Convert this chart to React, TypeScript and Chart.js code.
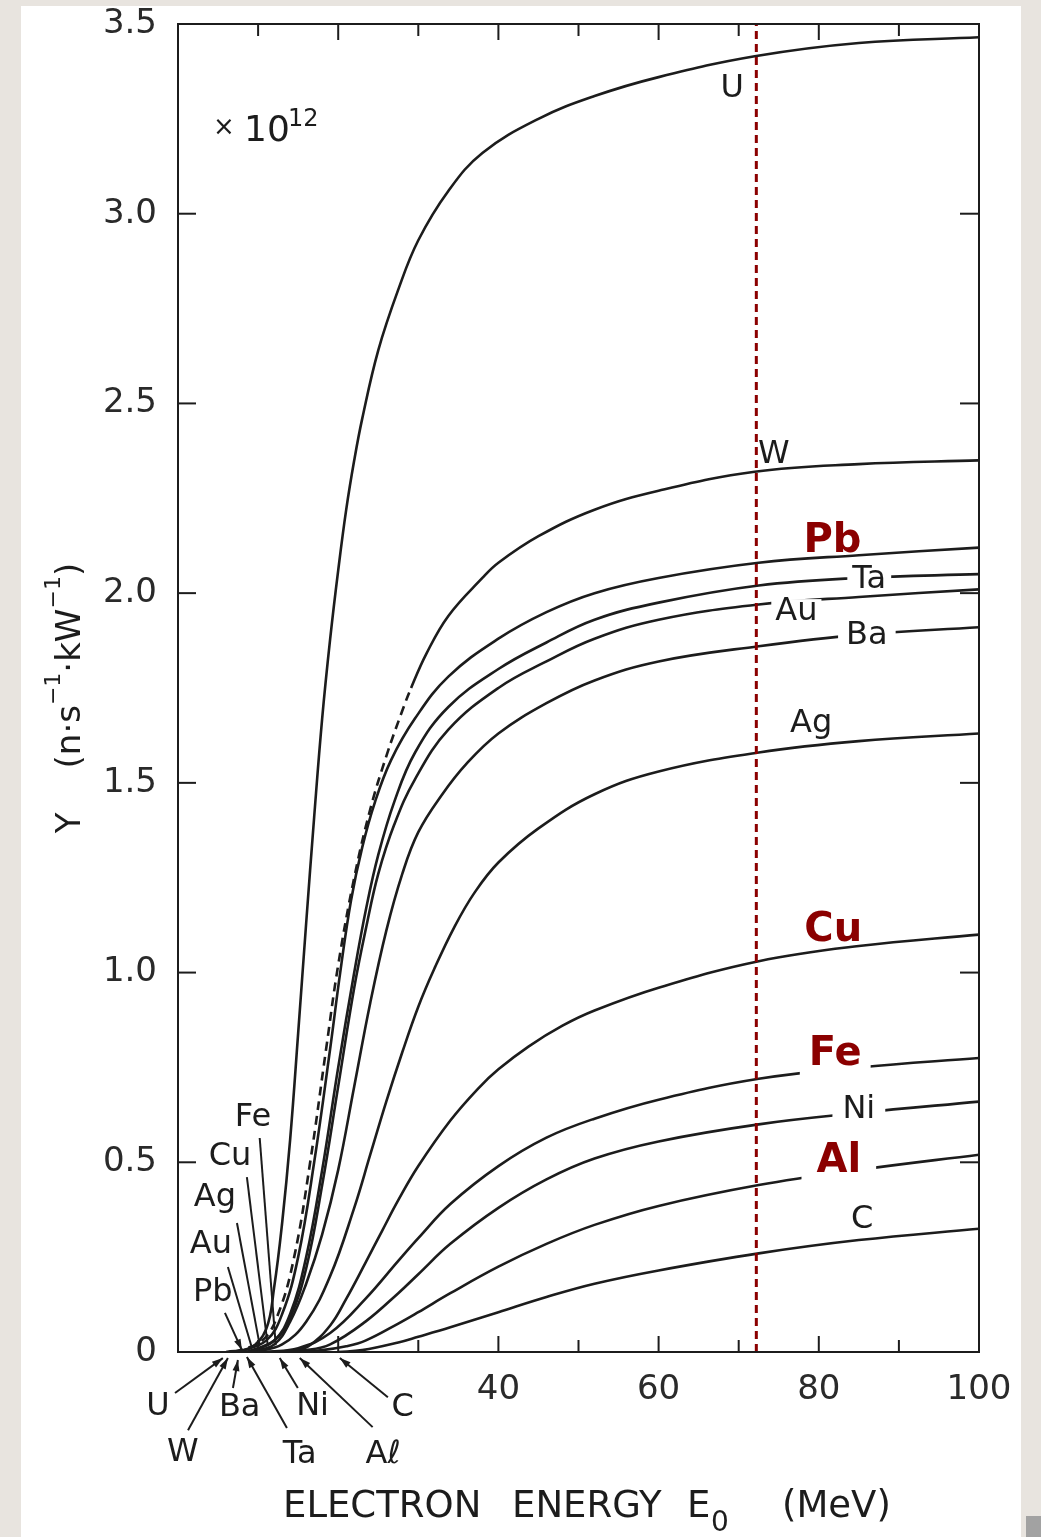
import React, { useEffect, useRef } from "react";
import { Chart, registerables } from "chart.js";

Chart.register(...registerables);

// ---------- DATA: electron energy E0 (MeV) -> neutron yield Y (x 10^12 n·s^-1·kW^-1) ----------
const U_YIELD = [[6,0],[9,0.01],[11,0.06],[12,0.17],[13,0.34],[14,0.56],[15,0.84],[16,1.13],[17,1.41],[18,1.67],[19,1.88],[20,2.06],[21,2.22],[22,2.35],[23,2.46],[25,2.64],[27.5,2.8],[30,2.93],[33.75,3.06],[38,3.16],[45,3.25],[52,3.31],[60,3.36],[72,3.415],[85,3.45],[100,3.465]];
const W_YIELD = [[7,0],[10.5,0.03],[12.5,0.1],[14.5,0.25],[16.5,0.5],[18.5,0.8],[20,1.02],[22,1.25],[24,1.43],[26,1.57],[28,1.69],[29.1,1.75],[31,1.84],[33.75,1.94],[38,2.04],[40,2.08],[45,2.15],[52,2.22],[60,2.27],[72,2.32],[85,2.34],[100,2.35]];
const PB_YIELD = [[7.5,0],[11,0.03],[13,0.1],[15,0.25],[17,0.5],[19,0.8],[20.25,1.0],[21.6,1.19],[23,1.33],[24.6,1.45],[26.6,1.56],[29.6,1.67],[33.75,1.78],[40,1.88],[46,1.95],[52,2.0],[60,2.04],[72.5,2.08],[85,2.1],[100,2.12]];
const TA_YIELD = [[9,0],[12,0.03],[14,0.1],[16,0.25],[18,0.48],[20,0.75],[22,1.0],[23.5,1.17],[25,1.31],[27,1.45],[29.6,1.58],[33.75,1.7],[40,1.8],[46,1.87],[52,1.93],[60,1.975],[72.5,2.02],[85,2.04],[100,2.05]];
const AU_YIELD = [[8.5,0],[12,0.03],[14,0.09],[16,0.22],[18,0.44],[20,0.7],[22,0.96],[23.5,1.12],[25,1.26],[27,1.39],[29.6,1.51],[33.75,1.64],[40,1.75],[46,1.82],[52,1.88],[60,1.93],[72.5,1.97],[85,1.99],[100,2.01]];
const BA_YIELD = [[9,0],[12,0.02],[14,0.08],[16,0.18],[18,0.31],[20,0.48],[22,0.7],[24,0.92],[26,1.11],[28,1.26],[30,1.37],[33,1.47],[36,1.55],[40,1.63],[46,1.71],[52,1.77],[60,1.82],[72.5,1.86],[85,1.89],[100,1.91]];
const AG_YIELD = [[9.5,0],[13,0.02],[16,0.08],[19,0.2],[22,0.38],[24,0.52],[26,0.66],[28,0.79],[30,0.91],[32,1.01],[34.5,1.12],[37,1.21],[40,1.29],[45,1.38],[52,1.47],[60,1.53],[72.5,1.58],[85,1.61],[100,1.63]];
const CU_YIELD = [[10,0],[14,0.003],[16.25,0.015],[19,0.07],[21,0.14],[23.4,0.235],[25.5,0.32],[27.5,0.4],[30,0.49],[34,0.61],[37.5,0.695],[40,0.745],[43.75,0.805],[48,0.86],[52,0.9],[60,0.96],[72.5,1.03],[85,1.07],[100,1.1]];
const FE_YIELD = [[11,0],[15,0.01],[19,0.05],[23.4,0.14],[27.5,0.24],[30,0.3],[34,0.39],[40,0.49],[46,0.565],[52,0.615],[60,0.665],[72.5,0.72],[85,0.75],[100,0.775]];
const NI_YIELD = [[12,0],[16,0.005],[19,0.02],[23.4,0.08],[27.5,0.155],[30,0.205],[34,0.285],[40,0.38],[46,0.455],[52,0.51],[60,0.555],[72.5,0.6],[85,0.63],[100,0.66]];
const AL_YIELD = [[14,0],[18,0.005],[21,0.015],[23.4,0.03],[27.5,0.075],[30,0.105],[34,0.155],[40,0.225],[46,0.285],[52,0.335],[60,0.385],[72.5,0.44],[85,0.48],[100,0.52]];
const C_YIELD = [[20,0],[23,0.005],[27.5,0.025],[30,0.04],[34,0.065],[40,0.105],[46,0.145],[52,0.18],[60,0.215],[72.5,0.26],[85,0.295],[100,0.325]];

const W_DASHED_BELOW = 29.1; // W curve drawn dashed below this energy
const MARKER_ENERGY = 72.2;  // red dotted vertical line

const X_TICK_LABELS = [40, 60, 80, 100];
const X_MARKS = [10, 20, 30, 40, 50, 60, 70, 80, 90];
const Y_MARKS = [0.5, 1.0, 1.5, 2.0, 2.5, 3.0];

// curve labels at the right (text, energy, yield)
const RIGHT_LABELS = [
  { text: "U", x: 69.2, y: 3.33, bg: 0 },
  { text: "W", x: 74.4, y: 2.364, bg: 0 },
  { text: "Ta", x: 86.3, y: 2.035, bg: 5 },
  { text: "Au", x: 77.2, y: 1.95, bg: 4 },
  { text: "Ba", x: 86.0, y: 1.887, bg: 8 },
  { text: "Ag", x: 79.05, y: 1.655, bg: 0 },
  { text: "Ni", x: 85.0, y: 0.638, bg: 10 },
  { text: "C", x: 85.4, y: 0.348, bg: 0 },
];
const RED_LABELS = [
  { text: "Pb", x: 81.7, y: 2.135, bg: 0 },
  { text: "Cu", x: 81.8, y: 1.11, bg: 0 },
  { text: "Fe", x: 82.05, y: 0.785, bg: 9 },
  { text: "Al", x: 82.5, y: 0.503, bg: 15 },
];
// threshold labels with leader lines: text position, leader start, leader end, arrow
const THRESHOLD_LABELS = [
  { text: "Fe", x: 9.35, y: 0.617, from: [10.2, 0.564], to: [12.2, 0.018], arrow: false },
  { text: "Cu", x: 6.5, y: 0.514, from: [8.6, 0.461], to: [11.2, 0.018], arrow: false },
  { text: "Ag", x: 4.6, y: 0.406, from: [7.36, 0.34], to: [10.2, 0.018], arrow: false },
  { text: "Au", x: 4.1, y: 0.282, from: [6.23, 0.224], to: [9.2, 0.013], arrow: false },
  { text: "Pb", x: 4.35, y: 0.156, from: [5.86, 0.103], to: [7.98, 0.005], arrow: true },
  { text: "U", x: -2.5, y: -0.145, from: [-0.37, -0.108], to: [5.6, -0.016], arrow: true },
  { text: "W", x: 0.6, y: -0.266, from: [1.25, -0.206], to: [6.23, -0.016], arrow: true },
  { text: "Ba", x: 7.7, y: -0.148, from: [6.86, -0.095], to: [7.48, -0.021], arrow: true },
  { text: "Ta", x: 15.2, y: -0.271, from: [13.6, -0.2], to: [8.6, -0.013], arrow: true },
  { text: "Ni", x: 16.8, y: -0.145, from: [14.96, -0.095], to: [12.7, -0.016], arrow: true },
  { text: "Aℓ", x: 25.6, y: -0.271, from: [24.3, -0.198], to: [15.2, -0.016], arrow: true },
  { text: "C", x: 28.05, y: -0.148, from: [26.2, -0.119], to: [20.2, -0.016], arrow: true },
];

const CURVES = [
  { name: "U", pts: U_YIELD },
  { name: "W", pts: W_YIELD },
  { name: "Pb", pts: PB_YIELD },
  { name: "Ta", pts: TA_YIELD },
  { name: "Au", pts: AU_YIELD },
  { name: "Ba", pts: BA_YIELD },
  { name: "Ag", pts: AG_YIELD },
  { name: "Cu", pts: CU_YIELD },
  { name: "Fe", pts: FE_YIELD },
  { name: "Ni", pts: NI_YIELD },
  { name: "Al", pts: AL_YIELD },
  { name: "C", pts: C_YIELD },
];

const INK = "#1c1c1c";
const RED = "#8b0000";
const FONT = '"DejaVu Sans", sans-serif';

function drawRuns(ctx: CanvasRenderingContext2D, x: number, y: number, runs: any[]) {
  let cx = x;
  for (const r of runs) {
    ctx.font = `${r.size}px ${FONT}`;
    ctx.fillText(r.t, cx, y + (r.dy || 0));
    cx += ctx.measureText(r.t).width + (r.gap || 0);
  }
  return cx - x;
}
function runsWidth(ctx: CanvasRenderingContext2D, runs: any[]) {
  let w = 0;
  for (const r of runs) {
    ctx.font = `${r.size}px ${FONT}`;
    w += ctx.measureText(r.t).width + (r.gap || 0);
  }
  return w;
}

const annotatePlugin = {
  id: "annotate",
  afterDraw(chart: any) {
    const { ctx, chartArea: a, scales } = chart;
    const px = (v: number) => scales.x.getPixelForValue(v);
    const py = (v: number) => scales.y.getPixelForValue(v);
    const seg = (x1: number, y1: number, x2: number, y2: number) => {
      ctx.beginPath(); ctx.moveTo(x1, y1); ctx.lineTo(x2, y2); ctx.stroke();
    };
    ctx.save();
    ctx.strokeStyle = INK;
    ctx.fillStyle = INK;
    ctx.lineWidth = 2;
    // frame
    ctx.strokeRect(a.left, a.top, a.right - a.left, a.bottom - a.top);
    // inward tick marks
    for (const v of Y_MARKS) {
      const y = py(v);
      seg(a.left, y, a.left + 18, y);
      seg(a.right - 19, y, a.right, y);
    }
    for (const v of X_MARKS) {
      const x = px(v);
      const len = v % 20 === 0 ? 16 : 12;
      seg(x, a.bottom, x, a.bottom - len);
      seg(x, a.top, x, a.top + len);
    }
    // leader lines
    ctx.lineWidth = 2;
    for (const l of THRESHOLD_LABELS) {
      const x1 = px(l.from[0]), y1 = py(l.from[1]);
      const x2 = px(l.to[0]), y2 = py(l.to[1]);
      seg(x1, y1, x2, y2);
      if (l.arrow) {
        const ang = Math.atan2(y2 - y1, x2 - x1);
        const L = 11, H = 3.5;
        ctx.beginPath();
        ctx.moveTo(x2, y2);
        ctx.lineTo(x2 - L * Math.cos(ang) + H * Math.sin(ang), y2 - L * Math.sin(ang) - H * Math.cos(ang));
        ctx.lineTo(x2 - L * Math.cos(ang) - H * Math.sin(ang), y2 - L * Math.sin(ang) + H * Math.cos(ang));
        ctx.closePath();
        ctx.fill();
      }
    }
    // black labels
    ctx.textAlign = "center";
    ctx.textBaseline = "middle";
    ctx.font = `32px ${FONT}`;
    for (const l of [...RIGHT_LABELS, ...THRESHOLD_LABELS.map((t) => ({ ...t, bg: 0 }))]) {
      const x = px(l.x), y = py(l.y);
      if (l.bg) {
        const w = ctx.measureText(l.text).width + 2 * l.bg;
        ctx.fillStyle = "#ffffff";
        ctx.fillRect(x - w / 2, y - 13, w, 26);
      }
      ctx.fillStyle = INK;
      ctx.fillText(l.text, x, y);
    }
    // red labels
    ctx.font = `bold 40px ${FONT}`;
    for (const l of RED_LABELS) {
      const x = px(l.x), y = py(l.y);
      if (l.bg) {
        const w = ctx.measureText(l.text).width + 2 * l.bg;
        ctx.fillStyle = "#ffffff";
        ctx.fillRect(x - w / 2, y - 22, w, 44);
      }
      ctx.fillStyle = RED;
      ctx.fillText(l.text, x, y);
    }
    // x10^12
    ctx.fillStyle = INK;
    ctx.textAlign = "left";
    ctx.textBaseline = "alphabetic";
    ctx.font = `26px ${FONT}`;
    ctx.fillText("×", a.left + 35, a.top + 111);
    ctx.font = `36px ${FONT}`;
    ctx.fillText("10", a.left + 66, a.top + 117);
    ctx.font = `24px ${FONT}`;
    ctx.fillText("12", a.left + 110, a.top + 102);
    // x axis title
    const by = a.bottom + 165;
    ctx.font = `37px ${FONT}`;
    ctx.fillText("ELECTRON", a.left + 105, by);
    ctx.fillText("ENERGY", a.left + 334, by);
    ctx.fillText("E", a.left + 509, by);
    ctx.fillText("(MeV)", a.left + 604, by);
    ctx.font = `28px ${FONT}`;
    ctx.fillText("0", a.left + 533, by + 14);
    // y axis title (rotated)
    const runs = [
      { t: "Y", size: 34, gap: 44 },
      { t: "(n·s", size: 34 },
      { t: "−1", size: 22, dy: -20 },
      { t: "·kW", size: 34 },
      { t: "−1", size: 22, dy: -20 },
      { t: ")", size: 34 },
    ];
    ctx.save();
    ctx.translate(a.left - 98, a.top + 674);
    ctx.rotate(-Math.PI / 2);
    const tw = runsWidth(ctx, runs);
    drawRuns(ctx, -tw / 2, 0, runs);
    ctx.restore();
    ctx.restore();
  },
};

export default function App() {
  const ref = useRef<HTMLCanvasElement | null>(null);
  useEffect(() => {
    const canvas = ref.current;
    if (!canvas) return;
    Chart.defaults.font.family = FONT;
    const datasets: any[] = [
      {
        label: "marker",
        data: [{ x: MARKER_ENERGY, y: 0 }, { x: MARKER_ENERGY, y: 3.5 }],
        borderColor: RED,
        borderWidth: 3,
        borderDash: [8, 5],
        pointRadius: 0,
        tension: 0,
      },
      ...CURVES.map((c) => ({
        label: c.name,
        data: c.pts.map(([x, y]) => ({ x, y })),
        borderColor: INK,
        borderWidth: 2.6,
        pointRadius: 0,
        tension: 0.4,
        fill: false,
        segment:
          c.name === "W"
            ? { borderDash: (ctx: any) => (ctx.p1.parsed.x <= W_DASHED_BELOW ? [9, 6] : undefined) }
            : undefined,
      })),
    ];
    const chart = new Chart(canvas, {
      type: "line",
      data: { datasets },
      options: {
        responsive: false,
        animation: false,
        devicePixelRatio: 1,
        layout: { padding: { top: 24, right: 62, left: 0, bottom: 0 } },
        plugins: { legend: { display: false }, tooltip: { enabled: false } },
        scales: {
          x: {
            type: "linear",
            min: 0,
            max: 100,
            grid: { display: false, drawTicks: false },
            border: { display: false },
            ticks: {
              stepSize: 20,
              autoSkip: false,
              maxRotation: 0,
              padding: 18,
              color: "#2a2a2a",
              font: { family: FONT, size: 34 },
              callback: (v: any) => (X_TICK_LABELS.includes(Number(v)) ? String(v) : ""),
            },
            afterFit: (s: any) => { s.height = 185; s.paddingLeft = 0; s.paddingRight = 0; },
          },
          y: {
            type: "linear",
            min: 0,
            max: 3.5,
            grid: { display: false, drawTicks: false },
            border: { display: false },
            ticks: {
              stepSize: 0.5,
              padding: 21,
              color: "#2a2a2a",
              font: { family: FONT, size: 34 },
              callback: (v: any) => (Number(v) === 0 ? "0" : Number(v).toFixed(1)),
            },
            afterFit: (s: any) => { s.width = 178; s.paddingTop = 0; s.paddingBottom = 0; },
          },
        },
      },
      plugins: [annotatePlugin],
    } as any);
    return () => chart.destroy();
  }, []);
  return (
    <div style={{ position: "absolute", left: 0, top: 0, width: 1041, height: 1537, background: "#e8e4df", overflow: "hidden" }}>
      <div style={{ position: "absolute", left: 21, top: 6, width: 1000, height: 1531, background: "#ffffff" }} />
      <div style={{ position: "absolute", left: 1026, top: 1516, width: 15, height: 21, background: "#a2a2a2" }} />
      <canvas ref={ref} width={1041} height={1537} style={{ position: "absolute", left: 0, top: 0, width: 1041, height: 1537 }} />
    </div>
  );
}
